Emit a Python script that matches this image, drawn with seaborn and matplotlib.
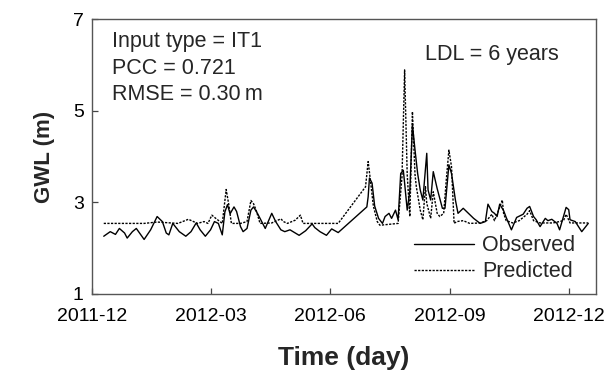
import matplotlib
matplotlib.use("Agg")
import matplotlib.pyplot as plt
import numpy as np
import pandas as pd
import seaborn as sns

# Observed groundwater level (m)
obs_dates = [
    "2011-12-10", "2011-12-15", "2011-12-19", "2011-12-22", "2011-12-26", "2011-12-28",
    "2012-01-01", "2012-01-04", "2012-01-10", "2012-01-15", "2012-01-20", "2012-01-24",
    "2012-01-27", "2012-01-29", "2012-02-01", "2012-02-06", "2012-02-11", "2012-02-15",
    "2012-02-19", "2012-02-22", "2012-02-26", "2012-03-01", "2012-03-04", "2012-03-07",
    "2012-03-10", "2012-03-12", "2012-03-14", "2012-03-16", "2012-03-19", "2012-03-21",
    "2012-03-24", "2012-03-26", "2012-03-29", "2012-04-01", "2012-04-03", "2012-04-06",
    "2012-04-10", "2012-04-12", "2012-04-17", "2012-04-20", "2012-04-24", "2012-04-27",
    "2012-05-01", "2012-05-08", "2012-05-13", "2012-05-18", "2012-05-20", "2012-05-24",
    "2012-05-29", "2012-06-02", "2012-06-07", "2012-06-29", "2012-06-30", "2012-07-01",
    "2012-07-03", "2012-07-05", "2012-07-08", "2012-07-11", "2012-07-13", "2012-07-16",
    "2012-07-18", "2012-07-21", "2012-07-23", "2012-07-25", "2012-07-27", "2012-07-28",
    "2012-07-30", "2012-08-01", "2012-08-03", "2012-08-05", "2012-08-07", "2012-08-09",
    "2012-08-11", "2012-08-14", "2012-08-15", "2012-08-17", "2012-08-19", "2012-08-22",
    "2012-08-26", "2012-08-28", "2012-08-31", "2012-09-02", "2012-09-05", "2012-09-07",
    "2012-09-11", "2012-09-15", "2012-09-19", "2012-09-24", "2012-09-28", "2012-09-30",
    "2012-10-03", "2012-10-05", "2012-10-07", "2012-10-09", "2012-10-12", "2012-10-14",
    "2012-10-18", "2012-10-22", "2012-10-27", "2012-10-30", "2012-11-01", "2012-11-04",
    "2012-11-06", "2012-11-09", "2012-11-13", "2012-11-15", "2012-11-18", "2012-11-22",
    "2012-11-24", "2012-11-29", "2012-12-01", "2012-12-02", "2012-12-06", "2012-12-11",
    "2012-12-16",
]
obs_values = [
    2.26, 2.36, 2.30, 2.43, 2.33, 2.22,
    2.36, 2.43, 2.19, 2.40, 2.69, 2.58,
    2.33, 2.29, 2.54, 2.36, 2.26, 2.36,
    2.55, 2.40, 2.26, 2.40, 2.58, 2.54,
    2.29, 2.79, 2.95, 2.75, 2.90, 2.80,
    2.47, 2.36, 2.43, 2.83, 2.90, 2.76,
    2.54, 2.43, 2.76, 2.58, 2.40, 2.36,
    2.40, 2.28, 2.38, 2.53, 2.45, 2.36,
    2.28, 2.42, 2.34, 2.90, 3.12, 3.53,
    3.42, 2.92, 2.65, 2.54, 2.69, 2.76,
    2.65, 2.83, 2.62, 3.63, 3.70, 3.42,
    2.83, 3.25, 4.69, 4.14, 3.63, 3.27,
    3.05, 4.07, 3.27, 3.05, 3.67, 3.30,
    2.87, 2.87, 3.82, 3.63, 3.05, 2.76,
    2.87, 2.76, 2.65, 2.54, 2.58, 2.96,
    2.80, 2.76, 2.69, 2.96, 2.82, 2.67,
    2.40, 2.67, 2.74, 2.87, 2.91, 2.69,
    2.62, 2.47, 2.65, 2.60, 2.63, 2.54,
    2.40, 2.89, 2.84, 2.62, 2.58, 2.36,
    2.54,
]

# Predicted groundwater level (m)
pred_dates = [
    "2011-12-10", "2012-01-10", "2012-01-20", "2012-02-05", "2012-02-13", "2012-02-20",
    "2012-02-25", "2012-02-28", "2012-03-02", "2012-03-05", "2012-03-10", "2012-03-13",
    "2012-03-15", "2012-03-17", "2012-03-24", "2012-03-29", "2012-04-01", "2012-04-03",
    "2012-04-05", "2012-04-08", "2012-04-17", "2012-04-24", "2012-04-26", "2012-04-29",
    "2012-05-05", "2012-05-09", "2012-05-11", "2012-06-07", "2012-06-28", "2012-06-30",
    "2012-07-02", "2012-07-04", "2012-07-07", "2012-07-09", "2012-07-23", "2012-07-26",
    "2012-07-28", "2012-07-30", "2012-08-01", "2012-08-03", "2012-08-05", "2012-08-06",
    "2012-08-09", "2012-08-11", "2012-08-13", "2012-08-14", "2012-08-17", "2012-08-19",
    "2012-08-22", "2012-08-24", "2012-08-27", "2012-08-29", "2012-08-31", "2012-09-02",
    "2012-09-04", "2012-09-06", "2012-09-11", "2012-09-16", "2012-09-24", "2012-09-29",
    "2012-10-03", "2012-10-05", "2012-10-07", "2012-10-11", "2012-10-12", "2012-10-14",
    "2012-10-19", "2012-10-24", "2012-10-30", "2012-11-01", "2012-11-04", "2012-11-09",
    "2012-11-19", "2012-11-27", "2012-11-29", "2012-12-02", "2012-12-16",
]
pred_values = [
    2.54, 2.54, 2.57, 2.54, 2.63, 2.54,
    2.58, 2.54, 2.72, 2.65, 2.54, 3.28,
    2.95, 2.54, 2.54, 2.58, 3.04, 2.97,
    2.83, 2.54, 2.55, 2.64, 2.58, 2.54,
    2.61, 2.72, 2.54, 2.54, 3.34, 3.89,
    3.42, 2.92, 2.58, 2.50, 2.54, 3.56,
    5.89, 3.60, 2.69, 4.98, 3.60, 3.34,
    2.83, 2.62, 3.34, 2.98, 2.65, 3.23,
    2.76, 2.69, 2.76, 3.49, 4.14, 3.78,
    2.54, 2.58, 2.60, 2.54, 2.55, 2.60,
    2.74, 2.60, 2.74, 3.05, 2.76, 2.60,
    2.55, 2.60, 2.74, 2.82, 2.60, 2.55,
    2.55, 2.60, 2.74, 2.55, 2.55,
]

y_ticks = [1, 3, 5, 7]
x_ticks = ["2011-12-01", "2012-03-01", "2012-06-01", "2012-09-01", "2012-12-01"]
x_tick_labels = ["2011-12", "2012-03", "2012-06", "2012-09", "2012-12"]
stats_text = "Input type = IT1\nPCC = 0.721\nRMSE = 0.30\u2009m"
ldl_text = "LDL = 6 years"

sns.set_theme(style="ticks")
plt.rcParams["font.family"] = ["Liberation Sans", "DejaVu Sans"]

obs = pd.DataFrame({"date": pd.to_datetime(obs_dates), "gwl": obs_values})
pred = pd.DataFrame({"date": pd.to_datetime(pred_dates), "gwl": pred_values})

fig = plt.figure(figsize=(6.07, 3.74), dpi=100)
ax = fig.add_axes([0.1516, 0.214, 0.8304, 0.735])

sns.lineplot(data=obs, x="date", y="gwl", ax=ax, color="black", lw=1.0,
             label="Observed")
sns.lineplot(data=pred, x="date", y="gwl", ax=ax, color="black", lw=1.0,
             dashes=False, linestyle=(0, (1.6, 1.0)), label="Predicted")

ax.set_xlim(pd.Timestamp("2011-12-01"), pd.Timestamp("2012-12-22"))
ax.set_ylim(1, 7)
ax.set_yticks(y_ticks)
ax.set_xticks(pd.to_datetime(x_ticks))
ax.set_xticklabels(x_tick_labels)

ax.tick_params(axis="both", direction="in", length=4, width=0.9, color="#444444",
               labelsize=14, labelcolor="black")
ax.tick_params(axis="x", pad=10)
ax.tick_params(axis="y", pad=6)
for sp in ax.spines.values():
    sp.set_visible(True)
    sp.set_color("#555555")
    sp.set_linewidth(1.0)

ax.set_xlabel("Time (day)", fontsize=19, fontweight="bold", labelpad=15)
ax.set_ylabel("GWL (m)", fontsize=16, fontweight="bold", labelpad=13)

ax.text(0.04, 0.955, stats_text, transform=ax.transAxes, fontsize=15.5,
        va="top", ha="left", linespacing=1.32)
ax.text(0.925, 0.87, ldl_text, transform=ax.transAxes, fontsize=15.5,
        va="center", ha="right")

leg = ax.legend(loc="lower right", frameon=False, fontsize=15.5,
                handlelength=2.8, handletextpad=0.4, labelspacing=0.25,
                borderaxespad=0.2, bbox_to_anchor=(0.985, -0.005))

fig.savefig("out.png", dpi=100)
